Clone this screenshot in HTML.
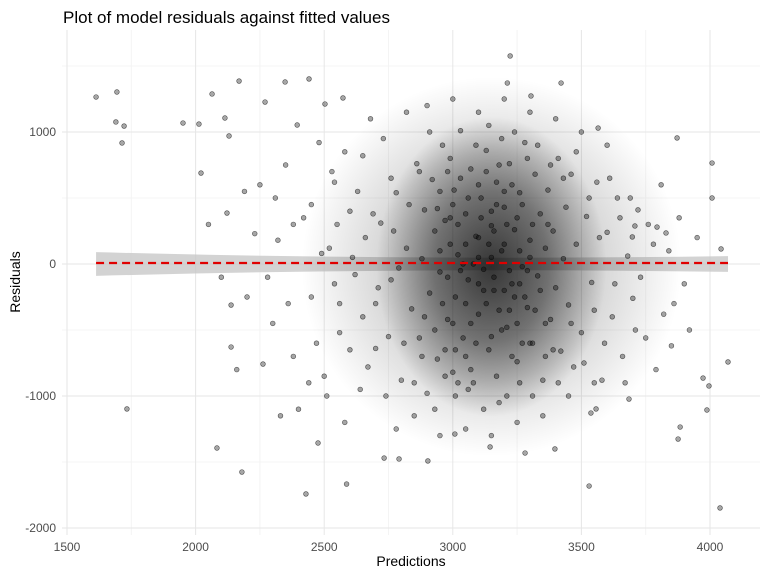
<!DOCTYPE html>
<html><head><meta charset="utf-8"><style>
body{margin:0;background:#fff;font-family:"Liberation Sans",sans-serif}
</style></head><body>
<svg id="chart" width="768" height="576" xmlns="http://www.w3.org/2000/svg">
<defs>
<radialGradient id="dens" cx="50%" cy="50%" r="50%">
<stop offset="0%" stop-color="#000" stop-opacity="0.72"/>
<stop offset="50%" stop-color="#000" stop-opacity="0.45"/>
<stop offset="100%" stop-color="#000" stop-opacity="0"/>
</radialGradient>
<radialGradient id="dens2" cx="50%" cy="50%" r="50%">
<stop offset="0%" stop-color="#000" stop-opacity="0.25"/>
<stop offset="60%" stop-color="#000" stop-opacity="0.15"/>
<stop offset="100%" stop-color="#000" stop-opacity="0"/>
</radialGradient>
</defs>
<rect width="768" height="576" fill="#fff"/>
<g id="grid"></g>
<g id="band"></g>
<g id="pts"></g>
<g id="axes"></g>
<text x="63" y="23" font-size="17" fill="#000">Plot of model residuals against fitted values</text>
<text x="411" y="566" font-size="14" text-anchor="middle" fill="#000">Predictions</text>
<text transform="translate(20,282) rotate(-90)" font-size="14" text-anchor="middle" fill="#000">Residuals</text>
</svg>
<script>
const xTicks=[1500,2000,2500,3000,3500,4000];
const yTicks=[-2000,-1000,0,1000];
const outliers=[[1613,1265],[1694,1303],[1690,1076],[1722,1045],[1714,917],[1733,-1098],[1951,1068],[2013,1060],[2021,689],[2064,1288],[2114,1106],[2130,970],[2122,386],[2138,-311],[2138,-629],[2169,1386],[2083,-1394],[2180,-1576],[2270,1227],[2262,-758],[2348,1379],[2441,1402],[2395,1053],[2503,1212],[2573,1258],[2429,-1742],[2587,-1667],[2476,-1356],[4039,-1848],[4070,-742],[4043,114],[3996,-924],[3973,-864],[4008,765],[3988,-1106],[3876,-1326],[3884,-1235],[3794,280],[3829,235],[3708,288],[3698,205],[3565,1030],[3872,955],[4008,500],[3223,1576],[3212,1371],[3421,1371],[3304,1273],[3530,-1682],[3537,-1129],[3557,-1098],[2903,-1492],[2791,-1477],[2733,-1470],[3008,-1288],[3145,-1386],[3281,-1432],[3397,-1401],[3685,-1023]];
const cloud=[[2650,820],[2700,-640],[2720,310],[2760,-120],[2780,540],[2800,-880],[2820,120],[2840,-340],[2860,760],[2870,-560],[2880,40],[2890,410],[2900,-980],[2910,-220],[2920,640],[2930,250],[2940,-720],[2950,-60],[2960,900],[2970,330],[2980,-420],[2990,150],[3000,-820],[3005,560],[3010,-250],[3020,70],[3030,1010],[3040,-560],[3050,380],[3060,-120],[3070,720],[3080,-900],[3090,210],[3100,-380],[3110,500],[3120,-40],[3130,860],[3140,-650],[3150,290],[3160,-200],[3170,620],[3180,-1050],[3190,100],[3200,430],[3210,-480],[3220,760],[3230,-150],[3240,260],[3250,-740],[3260,540],[3270,-20],[3280,920],[3290,-330],[3300,180],[3310,-600],[3320,680],[3330,-90],[3340,380],[3350,-880],[3360,120],[3370,560],[3380,-420],[3390,250],[3400,-180],[3410,800],[3420,-660],[3430,40],[3440,430],[3450,-310],[3460,680],[3470,-780],[3480,150],[3500,-520],[3520,360],[3540,-140],[3560,620],[3580,-880],[3600,240],[3620,-400],[3640,500],[3660,-700],[3680,60],[3700,-260],[3720,410],[3750,-560],[3780,150],[3820,-380],[3850,-620],[3900,-150],[2250,600],[2300,-450],[2320,180],[2350,750],[2380,-700],[2400,-1100],[2420,350],[2450,-250],[2480,920],[2500,-850],[2520,120],[2540,620],[2560,-520],[2580,-1200],[2600,400],[2620,-80],[2640,-950],[2660,200],[2680,1100],[2700,-300],[2740,-1000],[2760,650],[2780,-1250],[2820,1150],[2850,-1150],[2880,-700],[2900,1200],[2950,-1300],[3000,1250],[3050,-1250],[3100,1150],[3150,-1300],[3200,1250],[3250,-1200],[3300,1150],[3350,-1150],[3400,1100],[3450,-1000],[3500,1000],[3550,-900],[3600,900],[2950,100],[2980,-100],[3020,300],[3050,-300],[3080,0],[3100,200],[3120,-200],[3150,50],[3180,-350],[3200,150],[3220,-50],[3250,350],[3280,-250],[3300,50],[3050,150],[3100,-150],[3150,400],[3200,-200],[3000,-450],[3250,-450],[3100,600],[3200,550],[3000,450],[3300,-600],[3150,-550],[3050,-700]];
const cloud2=[[2550,300],[2560,-300],[2580,850],[2600,-650],[2610,50],[2630,550],[2650,-400],[2670,-780],[2690,380],[2710,-180],[2730,950],[2750,-550],[2770,250],[2790,-30],[2810,-600],[2830,450],[2850,-900],[2870,700],[2890,-400],[2910,1000],[2930,-1100],[2950,550],[2970,-850],[2990,800],[3010,-1000],[3030,650],[3060,-950],[3090,900],[3120,-1100],[3140,1050],[3170,-850],[3190,950],[3210,-1000],[3240,1000],[3260,-900],[3290,800],[3310,-1000],[3330,900],[3360,-700],[3380,750],[3410,-900],[3430,650],[3460,-450],[3480,850],[3510,-750],[3530,500],[3550,-350],[3570,200],[3590,-600],[3610,650],[3630,-150],[3650,350],[3670,-900],[3690,500],[3710,-500],[3730,-100],[3760,300],[3790,-800],[3810,600],[3840,100],[3860,-300],[3880,350],[3920,-500],[3950,200],[2450,450],[2470,-600],[2490,80],[2510,-1000],[2530,700],[2540,-150],[2440,-900],[2380,300],[2360,-300],[2330,-1150],[2310,500],[2280,-100],[2200,-250],[2230,230],[2190,550],[2160,-800],[2100,-100],[2050,300],[2960,-300],[2990,350],[3010,-650],[3030,-50],[3060,500],[3070,-450],[3090,-600],[3110,350],[3130,-300],[3140,150],[3160,-100],[3170,450],[3190,-500],[3210,300],[3230,-700],[3240,-250],[3260,100],[3270,450],[3290,-50],[3310,300],[3340,-200],[3360,-450],[3370,300],[3390,-650],[2930,-500],[2940,420],[2970,-650],[2980,700],[3020,-900],[3070,-800],[3130,700],[3180,750],[3230,600],[3270,-600],[3320,-350],[3040,0],[3100,50],[3160,250],[3220,-350],[3260,-150]];
const fitRange=[1613,4070];
const bandHalf=[90,25,60];
const NS="http://www.w3.org/2000/svg";
const X=v=>67+(v-1500)*643/2500;
const Y=v=>264-v*0.132;
function mk(tag,attrs,parent){const e=document.createElementNS(NS,tag);for(const k in attrs)e.setAttribute(k,attrs[k]);parent.appendChild(e);return e;}
const grid=document.getElementById('grid'),axes=document.getElementById('axes'),pts=document.getElementById('pts'),band=document.getElementById('band');
for(let v=1250;v<=4250;v+=500){if(X(v)<62||X(v)>760)continue;const l=mk('line',{x1:X(v),x2:X(v),y1:30,y2:535,stroke:'#f4f4f4','stroke-width':1},grid);}
for(let v=-1500;v<=1500;v+=1000){const l=mk('line',{x1:62,x2:760,y1:Y(v),y2:Y(v),stroke:'#f4f4f4','stroke-width':1},grid);}
xTicks.forEach(v=>{const l=mk('line',{x1:X(v),x2:X(v),y1:30,y2:535,stroke:'#e6e6e6','stroke-width':1},grid);
const t=mk('text',{x:X(v),y:551,'font-size':12,fill:'#4d4d4d','text-anchor':'middle'},axes);t.textContent=v;});
yTicks.forEach(v=>{const l=mk('line',{x1:62,x2:760,y1:Y(v),y2:Y(v),stroke:'#e6e6e6','stroke-width':1},grid);
const t=mk('text',{x:56,y:Y(v)+4,'font-size':12,fill:'#4d4d4d','text-anchor':'end'},axes);t.textContent=v;});
const xm=(fitRange[0]+fitRange[1])/2;
const bp=`M${X(fitRange[0])},${Y(bandHalf[0])} Q${X(xm)},${Y(bandHalf[1])} ${X(fitRange[1])},${Y(bandHalf[2])} L${X(fitRange[1])},${Y(-bandHalf[2])} Q${X(xm)},${Y(-bandHalf[1])} ${X(fitRange[0])},${Y(-bandHalf[0])}Z`;
const b=mk('path',{d:bp,fill:'rgba(200,200,200,0.8)'},band);


const d2=mk('ellipse',{cx:X(3150),cy:Y(-20),rx:190,ry:190,fill:'url(#dens2)'},pts);


const d=mk('ellipse',{cx:X(3150),cy:Y(-20),rx:115,ry:150,fill:'url(#dens)'},pts);


[...cloud,...cloud2,...outliers].forEach(p=>{const c=mk('circle',{cx:X(p[0]),cy:Y(p[1]),r:2.4,fill:'rgba(0,0,0,0.35)',stroke:'rgba(0,0,0,0.6)','stroke-width':0.6},pts);

});
const fl=mk('line',{x1:X(fitRange[0]),x2:X(fitRange[1]),y1:Y(0)-1,y2:Y(0)-1,stroke:'#e00000','stroke-width':2.2,'stroke-dasharray':'8,5'},pts);


</script>
</body></html>
